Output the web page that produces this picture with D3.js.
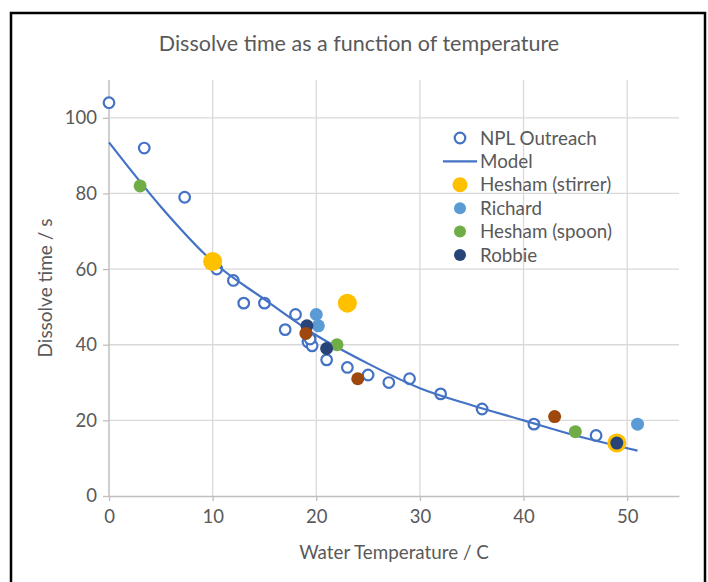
<!DOCTYPE html>
<html>
<head>
<meta charset="utf-8">
<script src="https://cdn.jsdelivr.net/npm/d3@7"></script>
<style>
  body { margin: 0; background: #fff; }
  svg { display: block; font-family: "Lato", "Open Sans", sans-serif; }
</style>
</head>
<body>
<script>
// data
const nplX = [0, 3.4, 7.3, 10.4, 12, 13, 15, 17, 18, 19.2, 19.6, 19.4, 21, 23, 25, 27, 29, 32, 36, 41, 47];
const nplY = [104, 92, 79, 60, 57, 51, 51, 44, 48, 40.7, 39.7, 41.5, 36, 34, 32, 30, 31, 27, 23, 19, 16];

const modelX = [0, 5, 10, 15, 20, 25, 30, 35, 40, 45, 51];
const modelY = [93.5, 76.5, 62, 52, 42.5, 35, 28.5, 24, 20, 16, 12];

const stirrerX = [10, 23, 49];
const stirrerY = [62, 51, 14];
const richardX = [20, 20.2, 51];
const richardY = [48, 45, 19];
const spoonX = [3, 22, 45];
const spoonY = [82, 40, 17];
const robbieX = [19.1, 21, 49];
const robbieY = [45, 39, 14];
const brownX = [19, 24, 43];
const brownY = [43, 31, 21];

const xTicks = [0, 10, 20, 30, 40, 50];
const yTicks = [0, 20, 40, 60, 80, 100];

const legendNames = ["NPL Outreach", "Model", "Hesham (stirrer)", "Richard", "Hesham (spoon)", "Robbie"];

function draw() {
  const W = 708, H = 582;
  const svg = d3.select("body").append("svg").attr("width", W).attr("height", H);

  // chart frame
  svg.append("rect").attr("x", 11).attr("y", 13).attr("width", 694).attr("height", 580)
    .attr("fill", "#fff").attr("stroke", "#000").attr("stroke-width", 2.5);

  const x = d3.scaleLinear().domain([0, 55]).range([109, 679]);
  const y = d3.scaleLinear().domain([0, 110]).range([496, 80]);

  // gridlines
  const grid = svg.append("g").attr("stroke", "#d9d9d9").attr("stroke-width", 1.3);
  grid.selectAll(".vg").data(xTicks.slice(1)).join("line")
    .attr("x1", d => x(d)).attr("x2", d => x(d)).attr("y1", y(110)).attr("y2", y(0));
  grid.selectAll(".hg").data(yTicks.slice(1)).join("line")
    .attr("x1", x(0)).attr("x2", x(55)).attr("y1", d => y(d)).attr("y2", d => y(d));

  // axes
  const xAxis = svg.append("g").attr("transform", "translate(0," + y(0) + ")")
    .call(d3.axisBottom(x).tickValues(xTicks).tickSize(5).tickPadding(9).tickSizeOuter(0));
  const yAxis = svg.append("g").attr("transform", "translate(" + x(0) + ",0)")
    .call(d3.axisLeft(y).tickValues(yTicks).tickSize(6).tickPadding(6).tickSizeOuter(0));
  yAxis.select(".domain").attr("d", "M0," + y(110) + "V" + y(0));
  [xAxis, yAxis].forEach(a => {
    a.select(".domain").attr("stroke", "#bfbfbf").attr("stroke-width", 1.5);
    a.selectAll(".tick line").attr("stroke", "#bfbfbf").attr("stroke-width", 1.3);
    a.selectAll(".tick text").attr("fill", "#595959").style("font-size", "18.5px")
      .style("font-family", "Lato, sans-serif");
  });

  // titles
  svg.append("text").attr("x", 359).attr("y", 51).attr("text-anchor", "middle")
    .attr("fill", "#595959").style("font-size", "21.5px")
    .text("Dissolve time as a function of temperature");
  svg.append("text").attr("x", 394).attr("y", 559).attr("text-anchor", "middle")
    .attr("fill", "#595959").style("font-size", "18.8px")
    .text("Water Temperature /  C");
  svg.append("text").attr("transform", "translate(52,288) rotate(-90)").attr("text-anchor", "middle")
    .attr("fill", "#595959").style("font-size", "19px")
    .text("Dissolve time / s");

  const blue = "#4472c4";

  // NPL Outreach open circles
  svg.append("g").selectAll("circle").data(d3.zip(nplX, nplY)).join("circle")
    .attr("cx", d => x(d[0])).attr("cy", d => y(d[1])).attr("r", 5.3)
    .attr("fill", "#fff").attr("stroke", blue).attr("stroke-width", 2.2);

  // model line
  const line = d3.line().x(d => x(d[0])).y(d => y(d[1])).curve(d3.curveMonotoneX);
  svg.append("path").datum(d3.zip(modelX, modelY)).attr("d", line)
    .attr("fill", "none").attr("stroke", blue).attr("stroke-width", 2.2);

  const filled = [
    { xs: stirrerX, ys: stirrerY, c: "#ffc000", r: 9.5 },
    { xs: richardX, ys: richardY, c: "#5b9bd5", r: 6.5 },
    { xs: spoonX, ys: spoonY, c: "#70ad47", r: 6.5 },
    { xs: robbieX, ys: robbieY, c: "#264478", r: 6.5 },
    { xs: brownX, ys: brownY, c: "#9e480e", r: 6.5 }
  ];
  filled.forEach(s => {
    svg.append("g").selectAll("circle").data(d3.zip(s.xs, s.ys)).join("circle")
      .attr("cx", d => x(d[0])).attr("cy", d => y(d[1])).attr("r", s.r).attr("fill", s.c);
  });

  // legend
  const lg = svg.append("g");
  const rowY = i => 138 + i * 23.4;
  legendNames.forEach((name, i) => {
    const yy = rowY(i);
    if (i === 0) {
      lg.append("circle").attr("cx", 460).attr("cy", yy).attr("r", 5.3)
        .attr("fill", "#fff").attr("stroke", blue).attr("stroke-width", 2.2);
    } else if (i === 1) {
      lg.append("line").attr("x1", 443).attr("x2", 477).attr("y1", yy).attr("y2", yy)
        .attr("stroke", blue).attr("stroke-width", 2.2);
    } else {
      const s = filled[i - 2];
      lg.append("circle").attr("cx", 460).attr("cy", yy).attr("r", i === 2 ? 7.5 : 6)
        .attr("fill", s.c);
    }
    lg.append("text").attr("x", 480).attr("y", yy + 6.5).attr("fill", "#595959")
      .style("font-size", "18.8px").text(name);
  });
}

window.addEventListener("load", draw);
</script>
</body>
</html>
